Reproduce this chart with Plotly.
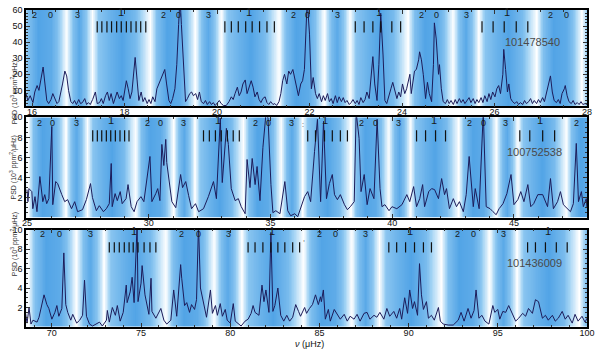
import numpy as np
import plotly.graph_objects as go

# ---- panel 1 : KIC 101478540 ----
nu1 = [15.87, 15.91, 15.96, 16.02, 16.06, 16.11, 16.15, 16.19, 16.24, 16.28, 16.32, 16.36, 16.41, 16.45,
       16.49, 16.54, 16.58, 16.62, 16.66, 16.71, 16.75, 16.79, 16.84, 16.88, 16.92, 16.96, 17.01, 17.05,
       17.09, 17.14, 17.18, 17.22, 17.26, 17.31, 17.35, 17.37, 17.41, 17.46, 17.5, 17.54, 17.59, 17.63,
       17.67, 17.71, 17.76, 17.8, 17.84, 17.89, 17.93, 17.97, 18.01, 18.04, 18.08, 18.12, 18.16, 18.23,
       18.27, 18.31, 18.36, 18.4, 18.44, 18.49, 18.53, 18.57, 18.61, 18.66, 18.7, 18.74, 18.79, 18.83,
       18.87, 18.91, 18.96, 19.0, 19.04, 19.09, 19.13, 19.17, 19.2, 19.23, 19.28, 19.32, 19.36, 19.41,
       19.45, 19.49, 19.54, 19.58, 19.62, 19.66, 19.71, 19.75, 19.79, 19.84, 19.88, 19.92, 19.96, 20.01,
       20.05, 20.09, 20.14, 20.2, 20.26, 20.31, 20.35, 20.39, 20.44, 20.48, 20.52, 20.56, 20.61, 20.65,
       20.69, 20.74, 20.78, 20.82, 20.87, 20.91, 20.95, 20.99, 21.04, 21.08, 21.12, 21.16, 21.21, 21.25,
       21.29, 21.34, 21.38, 21.42, 21.46, 21.51, 21.55, 21.59, 21.64, 21.68, 21.72, 21.76, 21.81, 21.85,
       21.89, 21.92, 21.95, 22.0, 22.04, 22.08, 22.13, 22.17, 22.21, 22.26, 22.3, 22.34, 22.39, 22.43,
       22.47, 22.51, 22.56, 22.6, 22.64, 22.69, 22.73, 22.77, 22.81, 22.86, 22.9, 22.94, 22.99, 23.03,
       23.07, 23.11, 23.16, 23.2, 23.24, 23.29, 23.33, 23.37, 23.41, 23.46, 23.5, 23.54, 23.59, 23.63,
       23.67, 23.71, 23.76, 23.8, 23.84, 23.89, 23.93, 23.97, 24.01, 24.06, 24.1, 24.14, 24.17, 24.2,
       24.25, 24.27, 24.31, 24.36, 24.38, 24.42, 24.46, 24.51, 24.55, 24.59, 24.64, 24.68, 24.7, 24.74,
       24.79, 24.81, 24.85, 24.89, 24.94, 24.98, 25.02, 25.06, 25.11, 25.15, 25.19, 25.24, 25.28, 25.32,
       25.36, 25.41, 25.45, 25.49, 25.54, 25.58, 25.62, 25.66, 25.71, 25.75, 25.79, 25.84, 25.88, 25.92,
       25.96, 26.01, 26.05, 26.09, 26.13, 26.18, 26.2, 26.24, 26.28, 26.31, 26.35, 26.39, 26.44, 26.48,
       26.52, 26.56, 26.61, 26.65, 26.69, 26.74, 26.78, 26.82, 26.86, 26.91, 26.95, 26.99, 27.04, 27.08,
       27.12, 27.16, 27.21, 27.25, 27.29, 27.34, 27.38, 27.42, 27.46, 27.51, 27.53, 27.57, 27.61, 27.66,
       27.7, 27.74, 27.79, 27.83, 27.87, 27.91, 27.96, 28.0]
psd1 = [8, 3.7, 6.7, 2.4, 9, 13, 10, 17, 24.5, 14, 3.7, 1.8, 4.3, 8,
        5, 1.8, 3, 8, 14, 22, 19, 10, 3, 1.8, 3.7, 1.2, 4.3, 1.8,
        2.4, 4.9, 1.2, 2.4, 1.2, 4.3, 8, 9, 1.8, 2.4, 4.9, 1.8, 6.7, 9,
        3.7, 8, 1.8, 6, 9, 4.9, 6.7, 3.7, 11, 16, 11, 4.9, 9, 30.5,
        17, 3.7, 9, 3, 5.5, 1.8, 4.3, 1.8, 6, 3, 11, 14, 17, 20,
        23, 14, 3.7, 1.8, 4.9, 11, 26, 51, 68, 51, 20, 3, 4.9, 8,
        9, 6.7, 8, 4.3, 9, 3, 1.8, 3.7, 1.2, 3, 1.2, 2.4, 0.6, 2.4,
        3.7, 1.8, 0.6, 0.6, 3, 6, 4.3, 8, 12, 6.7, 9, 14, 16.5, 8,
        11, 16, 12, 6, 9, 4.3, 2.4, 4.9, 6, 2.4, 1.2, 3, 1.2, 1.8,
        0.6, 3, 8, 16, 20, 14, 22, 20, 23, 17, 11, 6.7, 14, 16,
        23, 51, 66, 45, 11, 18, 8, 4.9, 8, 3, 6.7, 3.7, 8, 3,
        4.9, 1.8, 6.7, 2.4, 6, 3, 5.5, 2.4, 3.7, 1.2, 2.4, 4.3, 1.8, 3.7,
        1.2, 5.5, 2.4, 4.3, 9, 4.9, 17, 31, 14, 3.7, 26, 58, 32, 3.7,
        1.8, 6.7, 11, 15, 11, 4.9, 9, 6, 14, 8, 11, 17, 20, 8,
        17, 22, 23, 29, 34, 29, 20, 4.9, 15, 8, 3, 26, 52, 42,
        20, 26, 11, 3, 1.8, 4.3, 1.8, 3.7, 1.2, 4.3, 1.8, 4.9, 2.4, 4.3,
        1.8, 3.7, 5.5, 2.4, 4.9, 1.8, 4.3, 2.4, 5.5, 2.4, 6.7, 3, 8, 4.3,
        9, 6, 11, 13, 8, 20, 35.5, 23, 9, 14, 4.9, 3, 1.8, 3,
        1.2, 2.4, 1.2, 3.7, 1.8, 3, 4.9, 1.8, 3.7, 1.8, 4.3, 2.4, 5.5, 3,
        8, 14, 19, 9, 3.7, 2.4, 4.3, 1.8, 8, 11, 13, 6.7, 3, 1.8,
        3.7, 1.2, 2.4, 1.2, 3, 1.2, 1.8, 1.2]

# ---- panel 2 : KIC 100752538 ----
nu2 = [25.0, 25.04, 25.08, 25.2, 25.24, 25.33, 25.41, 25.53, 25.65, 25.73, 25.81, 25.9, 26.02, 26.06,
       26.18, 26.26, 26.43, 26.55, 26.67, 26.83, 26.96, 27.08, 27.28, 27.44, 27.61, 27.69, 27.85, 27.97,
       28.14, 28.26, 28.38, 28.46, 28.5, 28.62, 28.71, 28.83, 28.91, 29.07, 29.15, 29.28, 29.4, 29.52,
       29.68, 29.8, 30.05, 30.13, 30.29, 30.37, 30.46, 30.54, 30.62, 30.7, 30.74, 30.86, 30.95, 31.11,
       31.31, 31.39, 31.52, 31.64, 31.76, 31.92, 32.05, 32.25, 32.45, 32.66, 32.78, 32.94, 33.02, 33.19,
       33.27, 33.39, 33.55, 33.68, 33.8, 33.96, 34.04, 34.16, 34.25, 34.37, 34.45, 34.57, 34.69, 34.82,
       34.9, 35.02, 35.1, 35.22, 35.39, 35.59, 35.71, 35.83, 36.0, 36.12, 36.24, 36.4, 36.53, 36.65,
       36.81, 36.93, 37.06, 37.18, 37.3, 37.42, 37.54, 37.63, 37.75, 37.87, 38.04, 38.16, 38.28, 38.44,
       38.52, 38.64, 38.72, 38.85, 38.97, 39.09, 39.25, 39.38, 39.5, 39.58, 39.7, 39.87, 39.99, 40.19,
       40.4, 40.6, 40.72, 40.88, 41.0, 41.13, 41.25, 41.33, 41.5, 41.62, 41.74, 41.9, 42.03, 42.15,
       42.23, 42.35, 42.51, 42.64, 42.76, 42.92, 43.04, 43.16, 43.33, 43.41, 43.57, 43.74, 43.86, 44.02,
       44.14, 44.27, 44.39, 44.55, 44.71, 44.88, 45.0, 45.16, 45.28, 45.41, 45.57, 45.69, 45.81, 45.98,
       46.18, 46.38, 46.5, 46.62, 46.79, 46.91, 47.03, 47.2, 47.32, 47.44, 47.56, 47.65, 47.77, 47.85,
       47.97, 48.0]
psd2 = [2.8, 1.6, 2.9, 2.6, 0.9, 2.1, 0.6, 4.1, 1.6, 2.3, 1.4, 1.9, 9.1, 1.3,
        3.6, 3.4, 2.3, 1.6, 1.8, 0.9, 1.6, 0.6, 0.8, 1.8, 3.4, 2.0, 0.7, 1.2,
        0.6, 0.9, 1.4, 5.4, 1.1, 2.4, 1.7, 2.6, 1.4, 1.9, 3.3, 1.1, 0.6, 1.6,
        2.1, 1.6, 6.1, 1.6, 2.4, 2.9, 1.7, 7.3, 5.2, 7.8, 5.5, 3.4, 1.6, 1.0,
        4.3, 3.0, 3.6, 2.2, 0.9, 1.4, 0.6, 0.9, 2.1, 3.6, 1.9, 9.9, 3.5, 8.9,
        7.3, 2.9, 1.7, 1.9, 1.1, 0.4, 5.8, 3.0, 5.9, 3.3, 5.1, 1.7, 7.0, 10.5,
        9.9, 3.3, 0.5, 0.7, 0.4, 3.6, 0.7, 0.2, 0.4, 0.1, 0.9, 2.1, 2.6, 1.6,
        6.6, 9.8, 1.6, 9.6, 1.9, 3.4, 4.3, 2.3, 1.8, 2.3, 1.3, 0.8, 1.1, 1.6,
        10.5, 7.9, 2.6, 4.3, 1.3, 2.9, 1.9, 9.8, 2.9, 1.1, 1.3, 0.7, 1.1, 0.9,
        1.3, 2.3, 1.6, 3.1, 1.1, 1.9, 3.3, 1.1, 2.6, 2.9, 2.8, 1.9, 3.9, 2.3,
        2.9, 0.9, 1.9, 1.1, 1.6, 0.6, 2.3, 6.1, 1.1, 2.9, 0.9, 10.5, 1.1, 0.9,
        0.6, 0.3, 0.9, 1.4, 2.4, 4.3, 1.3, 1.8, 2.6, 1.6, 3.3, 1.1, 1.4, 2.3,
        2.3, 1.1, 3.9, 0.9, 1.6, 2.6, 1.3, 0.9, 0.6, 1.4, 7.4, 1.6, 2.6, 1.1,
        1.9, 1.0]

# ---- panel 3 : KIC 101436009 ----
nu3 = [68.5, 68.61, 68.72, 68.83, 68.94, 69.17, 69.28, 69.44, 69.56, 69.72, 69.83, 70.0, 70.17, 70.28,
       70.39, 70.56, 70.67, 70.78, 70.89, 71.06, 71.17, 71.39, 71.56, 71.72, 71.83, 71.94, 72.11, 72.28,
       72.5, 72.67, 72.83, 73.06, 73.11, 73.22, 73.39, 73.56, 73.67, 73.83, 74.0, 74.17, 74.22, 74.39,
       74.5, 74.61, 74.78, 74.83, 75.0, 75.06, 75.22, 75.33, 75.44, 75.56, 75.61, 75.83, 76.11, 76.28,
       76.44, 76.67, 76.83, 77.0, 77.22, 77.28, 77.44, 77.56, 77.72, 77.83, 78.0, 78.11, 78.22, 78.33,
       78.5, 78.67, 78.89, 79.0, 79.17, 79.28, 79.44, 79.56, 79.72, 79.83, 80.0, 80.17, 80.28, 80.44,
       80.61, 80.83, 81.0, 81.17, 81.28, 81.39, 81.61, 81.78, 81.89, 82.0, 82.17, 82.28, 82.39, 82.5,
       82.67, 82.83, 83.0, 83.17, 83.33, 83.5, 83.67, 83.83, 83.94, 84.17, 84.28, 84.44, 84.61, 84.78,
       84.94, 85.06, 85.11, 85.22, 85.33, 85.5, 85.61, 85.83, 86.0, 86.17, 86.39, 86.56, 86.72, 86.94,
       87.11, 87.28, 87.5, 87.67, 87.83, 88.06, 88.22, 88.39, 88.61, 88.78, 88.94, 89.17, 89.33, 89.5,
       89.61, 89.78, 89.94, 90.06, 90.22, 90.33, 90.5, 90.61, 90.72, 90.83, 91.0, 91.11, 91.28, 91.44,
       91.67, 91.78, 91.94, 92.22, 92.5, 92.78, 92.94, 93.11, 93.33, 93.5, 93.67, 93.78, 93.94, 94.11,
       94.28, 94.5, 94.72, 94.83, 95.0, 95.11, 95.28, 95.44, 95.61, 95.83, 96.0, 96.17, 96.39, 96.56,
       96.72, 96.94, 97.11, 97.28, 97.39, 97.5, 97.67, 97.83, 98.06, 98.22, 98.39, 98.61, 98.78, 98.94,
       99.17, 99.33, 99.5, 99.72, 99.89, 100.0]
psd3 = [1.7, 0.4, 2.0, 0.3, 0.7, 0.5, 1.0, 2.2, 3.3, 2.3, 1.9, 0.8, 1.5, 2.2,
        1.1, 1.9, 7.6, 2.3, 1.5, 0.7, 1.3, 0.4, 0.7, 1.2, 4.8, 1.1, 0.3, 0.1,
        0.3, 0.5, 0.1, 0.7, 1.7, 0.5, 2.0, 1.2, 2.2, 0.6, 1.5, 4.3, 2.5, 3.6,
        5.1, 2.5, 10.5, 2.6, 4.5, 6.3, 3.3, 2.1, 1.3, 5.0, 1.6, 0.9, 1.9, 0.7,
        0.3, 0.7, 3.8, 1.1, 6.4, 5.0, 2.2, 2.5, 1.5, 2.3, 1.8, 2.8, 10.5, 4.0,
        2.5, 1.0, 3.8, 1.4, 2.2, 1.2, 2.4, 1.1, 1.8, 0.7, 0.4, 2.4, 0.6, 0.4,
        0.1, 0.6, 0.8, 1.4, 2.2, 1.5, 1.2, 4.3, 2.6, 3.8, 1.5, 9.7, 1.6, 2.2,
        4.0, 1.2, 0.6, 1.2, 0.6, 1.0, 2.3, 1.6, 1.1, 2.0, 1.4, 1.9, 2.3, 3.3,
        2.3, 3.1, 2.6, 3.8, 0.8, 1.8, 0.6, 1.8, 1.3, 0.8, 1.3, 0.6, 1.1, 0.8,
        1.3, 0.6, 1.4, 1.5, 0.8, 1.2, 1.0, 1.5, 0.8, 1.9, 1.1, 1.6, 0.9, 1.9,
        0.8, 3.0, 1.4, 3.8, 1.9, 2.6, 1.2, 6.5, 3.3, 1.8, 2.6, 0.9, 1.2, 0.7,
        2.0, 0.6, 0.3, 0.2, 0.2, 0.7, 1.5, 0.6, 1.9, 0.9, 1.7, 3.8, 0.9, 1.2,
        0.6, 0.3, 2.2, 1.5, 1.8, 0.8, 1.6, 1.5, 2.2, 1.2, 0.6, 0.9, 1.4, 1.1,
        1.9, 1.4, 2.8, 2.6, 1.6, 0.9, 1.2, 0.7, 1.2, 0.6, 0.9, 1.6, 0.8, 1.2,
        0.4, 1.3, 0.6, 1.1, 0.5, 0.9]

# degree labels (l) and their frequencies
deg_lab = ["2", "0", "3", "1"]
lab1_nu = [16.06, 16.41, 16.99, 17.93, 18.85, 19.17, 19.81, 20.69, 21.66, 21.96, 22.6, 23.5,
           24.42, 24.74, 25.39, 26.26, 27.21, 27.55]
lab2_nu = [25.53, 26.06, 27.04, 28.46, 29.93, 30.5, 31.44, 32.86, 34.37, 34.9, 35.87, 37.26,
           38.73, 39.3, 40.27, 41.7, 43.17, 43.74, 44.67, 46.06, 47.56]
lab3_nu = [69.5, 70.44, 72.17, 74.61, 77.28, 78.22, 79.89, 82.33, 85.0, 85.89, 87.61, 90.06,
           92.72, 93.61, 95.33, 97.83]

# rotational multiplet components (l=1)
mult1 = [17.41, 17.51, 17.62, 17.72, 17.83, 17.93, 18.04, 18.14, 18.25, 18.35, 18.46,
         20.17, 20.31, 20.46, 20.62, 20.76, 20.92, 21.08, 21.24,
         22.99, 23.18, 23.37, 23.54, 23.78, 23.97,
         25.73, 25.97, 26.21, 26.47, 26.72]
mult2 = [27.7, 27.89, 28.07, 28.26, 28.44, 28.63, 28.82, 29.01, 29.19,
         32.25, 32.49, 32.74, 32.98, 33.23, 33.47, 33.72,
         36.53, 36.85, 37.22, 37.54, 37.87, 38.16,
         41.0, 41.37, 41.78, 42.19,
         45.24, 45.65, 46.18, 46.67]
mult3 = [73.22, 73.5, 73.78, 74.06, 74.33, 74.56, 74.83, 75.17, 75.5, 75.83,
         81.0, 81.39, 81.83, 82.28, 82.67, 83.06, 83.5, 83.89,
         88.89, 89.33, 89.83, 90.33, 90.83, 91.28,
         96.67, 97.11, 97.67, 98.28, 98.89]

stars = ["101478540", "100752538", "101436009"]
nu0 = [16.41, 26.06, 70.44]     # l=0 reference
dnu = [2.785, 4.42, 7.72]       # large separation

# background shading in echelle phase (0 = radial mode)
band_phase = [0.0, 0.05, 0.12, 0.17, 0.22, 0.27, 0.32, 0.37, 0.46, 0.55, 0.66, 0.77, 0.82, 0.9, 1.0]
band_white = [0.08, 0.3, 1.0, 0.3, 0.05, 0.35, 1.0, 0.35, 0.15, 0.0, 0.25, 1.0, 0.3, 0.0, 0.08]

# small stray marks in the label rows
marks = [(":", 36.32, 9.3, 1), (",", 84.11, 9.1, 2)]

panels = [
    dict(nu=nu1, psd=psd1, lab=lab1_nu, mult=mult1, xr=[15.87, 28], yr=[0, 60], ydt=10, ymin=2,
         xdt=2, xmin=0.5, dom=[0.6957, 1.0], laby=57, tick=[46, 53], idy=39.8, idx=26.82),
    dict(nu=nu2, psd=psd2, lab=lab2_nu, mult=mult2, xr=[24.96, 48], yr=[0, 10], ydt=2, ymin=0.5,
         xdt=5, xmin=1, dom=[0.3447, 0.6615], laby=9.4, tick=[7.6, 8.7], idy=6.5, idx=45.85),
    dict(nu=nu3, psd=psd3, lab=lab3_nu, mult=mult3, xr=[68.55, 100], yr=[0, 10], ydt=2, ymin=0.5,
         xdt=5, xmin=1, dom=[0.0, 0.3075], laby=9.5, tick=[7.65, 8.7], idy=6.6, idx=97.06),
]

fig = go.Figure()
blues = [[0, "rgb(82,164,230)"], [0.5, "rgb(160,210,244)"], [1, "rgb(255,255,255)"]]
font = "Liberation Sans, Arial, sans-serif"
annots = []

for i, p in enumerate(panels):
    n = "" if i == 0 else str(i + 1)
    xa, ya = "x" + n, "y" + n
    xg = np.linspace(p["xr"][0], p["xr"][1], 900)
    ph = ((xg - nu0[i]) / dnu[i]) % 1.0
    zz = np.interp(ph, band_phase, band_white)
    fig.add_trace(go.Heatmap(x=xg, y=[p["yr"][0], p["yr"][1]], z=[zz, zz], colorscale=blues,
                             zmin=0, zmax=1, showscale=False, zsmooth="best", hoverinfo="skip",
                             xaxis=xa, yaxis=ya))
    fig.add_trace(go.Scatter(x=p["nu"], y=p["psd"], mode="lines",
                             line=dict(color="#1c1c5a", width=1), xaxis=xa, yaxis=ya,
                             showlegend=False))
    tx, ty = [], []
    for m in p["mult"]:
        tx += [m, m, None]
        ty += [p["tick"][0], p["tick"][1], None]
    fig.add_trace(go.Scatter(x=tx, y=ty, mode="lines", line=dict(color="#111", width=1.2),
                             xaxis=xa, yaxis=ya, showlegend=False, hoverinfo="skip"))
    for k, v in enumerate(p["lab"]):
        t = deg_lab[k % 4]
        big = t == "1"
        annots.append(dict(x=v, y=p["laby"] + (0.03 * p["yr"][1] if big else 0), xref=xa, yref=ya,
                           text=t, showarrow=False,
                           font=dict(size=11 if big else 9, color="#1a1a1a", family=font)))
    annots.append(dict(x=p["idx"], y=p["idy"], xref=xa, yref=ya, text=stars[i], showarrow=False,
                       font=dict(size=11, color="#4a4a4a", family=font)))
    annots.append(dict(x=-0.033, y=sum(p["dom"]) / 2, xref="paper", yref="paper", textangle=-90,
                       text="PSD (10<sup>3</sup> ppm<sup>2</sup>/μHz)", showarrow=False,
                       font=dict(size=7, color="#333", family=font)))
    axx = dict(domain=[0, 1], range=p["xr"], anchor=ya, showline=True, linecolor="black",
               linewidth=1.5, mirror="allticks", ticks="inside", ticklen=4, tickcolor="#333",
               dtick=p["xdt"], tick0=0, showgrid=False, zeroline=False, ticklabelstandoff=-4,
               minor=dict(ticks="inside", ticklen=2, dtick=p["xmin"], tickcolor="#333"),
               tickfont=dict(size=9, color="#111", family=font))
    axy = dict(domain=p["dom"], range=p["yr"], anchor=xa, showline=True, linecolor="black",
               linewidth=1.5, mirror="allticks", ticks="inside", ticklen=4, tickcolor="#333",
               tickvals=[v for v in np.arange(p["ydt"], p["yr"][1] + 0.01, p["ydt"])],
               showgrid=False, zeroline=False,
               minor=dict(ticks="inside", ticklen=2, dtick=p["ymin"], tick0=0, tickcolor="#333"),
               tickfont=dict(size=9, color="#111", family=font))
    fig.update_layout({"xaxis" + n: axx, "yaxis" + n: axy})

for txt, mx, my, pi in marks:
    annots.append(dict(x=mx, y=my, xref="x" + str(pi + 1), yref="y" + str(pi + 1), text=txt,
                       showarrow=False, font=dict(size=7, color="#333", family=font)))

annots.append(dict(x=0.505, y=-0.055, xref="paper", yref="paper", yanchor="middle",
                   text="<i>ν</i> (μHz)", showarrow=False,
                   font=dict(size=9, color="#111", family=font)))

fig.update_layout(width=600, height=349, margin=dict(l=26, r=8, t=5, b=22),
                  paper_bgcolor="white", plot_bgcolor="white", showlegend=False,
                  annotations=annots)

fig.write_html("out.html", config={"displayModeBar": False},
               post_script="document.body.style.margin='0';")
